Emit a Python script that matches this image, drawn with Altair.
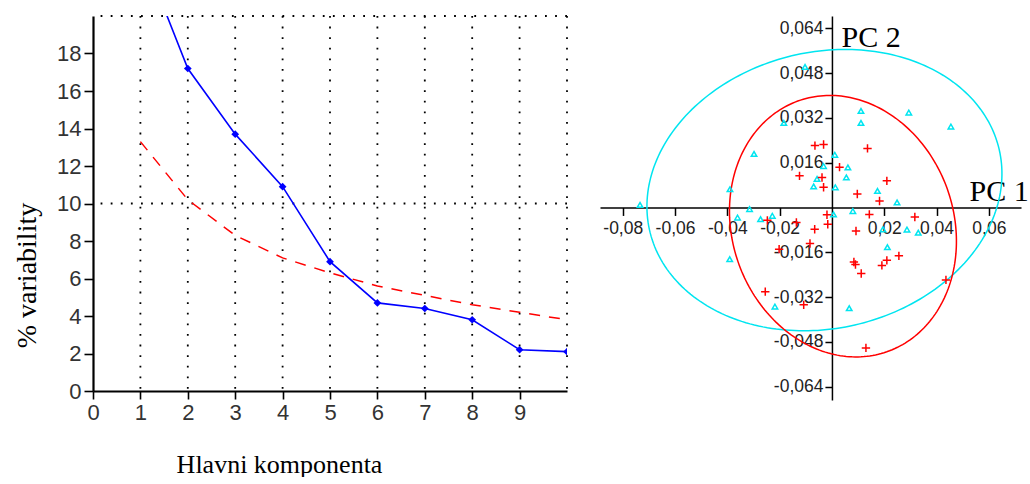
import altair as alt
import pandas as pd
import numpy as np

# ---------------- left panel data (scree plot) ----------------
pc = [1, 2, 3, 4, 5, 6, 7, 8, 9, 10]
explained = [23.6, 17.2, 13.7, 10.9, 6.9, 4.7, 4.4, 3.8, 2.2, 2.1]
reference = [13.3, 10.2, 8.3, 7.1, 6.3, 5.6, 5.1, 4.6, 4.2, 3.8]
grid_x = [1, 2, 3, 4, 5, 6, 7, 8, 9, 10]
grid_y = [10, 20]
x_ticks_left = [0, 1, 2, 3, 4, 5, 6, 7, 8, 9]
y_ticks_left = [0, 2, 4, 6, 8, 10, 12, 14, 16, 18]

# ---------------- right panel data (score plot) ----------------
cyan_x = [-0.0103, 0.0111, 0.0111, 0.0294, 0.0455, -0.0184, -0.0298, 0.0011, -0.0032, 0.0061,
          0.0055, -0.0057, -0.0070, 0.0013, 0.0174, 0.0249, -0.0390, -0.0734, -0.0315, -0.0361,
          -0.0273, -0.0228, 0.0006, 0.0080, 0.0195, 0.0287, 0.0330, 0.0212, -0.0391, -0.0218, 0.0066]
cyan_y = [0.0502, 0.0345, 0.0302, 0.0339, 0.0289, 0.0302, 0.0191, 0.0188, 0.0148, 0.0143,
          0.0107, 0.0102, 0.0075, 0.0072, 0.0059, 0.0018, 0.0065, 0.0009, -0.0006, -0.0036,
          -0.0042, -0.0030, -0.0025, -0.0013, -0.0078, -0.0079, -0.0090, -0.0142, -0.0185, -0.0354, -0.0360]
red_x = [-0.0065, -0.0032, 0.0136, -0.0124, -0.0038, 0.0029, -0.0032, 0.0210, 0.0097, 0.0182,
         -0.0019, -0.0016, 0.0143, 0.0317, -0.0066, -0.0136, -0.0247, 0.0092, -0.0084, -0.0202,
         0.0084, 0.0090, 0.0112, 0.0210, 0.0191, 0.0256, 0.0436, 0.0130, -0.0255, -0.0108]
red_y = [0.0221, 0.0225, 0.0211, 0.0113, 0.0107, 0.0144, 0.0072, 0.0095, 0.0048, 0.0023,
         -0.0026, -0.0060, -0.0025, -0.0034, -0.0078, -0.0054, -0.0046, -0.0084, -0.0129, -0.0149,
         -0.0195, -0.0204, -0.0236, -0.0189, -0.0207, -0.0173, -0.0259, -0.0502, -0.0301, -0.0348]

# confidence ellipses: centre and two conjugate semi-axis vectors (data units)
cyan_ell = dict(cx=-0.00287, cy=0.00618, ux=0.0668, uy=0.01464, vx=-0.01208, vy=0.04808)
red_ell = dict(cx=0.00421, cy=-0.00670, ux=0.03992, uy=0.01325, vx=-0.01702, vy=0.04479)

x_ticks_right = [-0.08, -0.06, -0.04, -0.02, 0.02, 0.04, 0.06]
y_ticks_right = [-0.064, -0.048, -0.032, -0.016, 0.016, 0.032, 0.048, 0.064]

SANS = "Liberation Sans"
SERIF = "Liberation Serif"

# ---------------- left chart ----------------
LW, LH = 474, 375
df_line = pd.DataFrame({"pc": pc, "explained": explained, "reference": reference})

xs_left = alt.Scale(domain=[0, 10], nice=False)
ys_left = alt.Scale(domain=[0, 20], nice=False)

x_axis_left = alt.Axis(values=x_ticks_left, grid=False, domainColor="black", domainWidth=2.2,
                       tickColor="black", tickWidth=1.6, tickSize=8, labelFont=SANS,
                       labelFontSize=22, labelColor="#333", labelPadding=3, labelFlush=False,
                       labelOverlap=False, title="Hlavni komponenta", titleFont=SERIF,
                       titleFontSize=26, titleFontWeight="normal", titleColor="black",
                       titleX=186, titleY=81, titleAlign="center", titleBaseline="alphabetic")
y_axis_left = alt.Axis(values=y_ticks_left, grid=False, domainColor="black", domainWidth=2.2,
                       tickColor="black", tickWidth=1.6, tickSize=9, labelFont=SANS,
                       labelFontSize=22, labelColor="#333", labelPadding=3, labelFlush=False,
                       labelOverlap=False, title="% variability", titleFont=SERIF,
                       titleFontSize=28, titleFontWeight="normal", titleColor="black",
                       titleX=-66, titleY=259, titleAlign="center", titleBaseline="middle",
                       titleAngle=270)

vgrid = alt.Chart(pd.DataFrame({"gx": grid_x})).mark_rule(
    color="black", strokeWidth=1.8, strokeDash=[1.8, 8.8]).encode(
    x=alt.X("gx:Q", scale=xs_left, axis=x_axis_left))
hgrid = alt.Chart(pd.DataFrame({"gy": grid_y})).mark_rule(
    color="black", strokeWidth=1.8, strokeDash=[1.8, 8.3]).encode(
    y=alt.Y("gy:Q", scale=ys_left, axis=y_axis_left))

ref_line = alt.Chart(df_line).mark_line(color="#ff0000", strokeWidth=1.5,
                                        strokeDash=[11, 9], clip=True).encode(
    x=alt.X("pc:Q", scale=xs_left), y=alt.Y("reference:Q", scale=ys_left))
exp_line = alt.Chart(df_line).mark_line(color="#0000ff", strokeWidth=1.6, clip=True).encode(
    x=alt.X("pc:Q", scale=xs_left), y=alt.Y("explained:Q", scale=ys_left))
exp_pts = alt.Chart(df_line).mark_point(shape="diamond", filled=True, color="#0000ff",
                                        size=60, opacity=1, clip=True).encode(
    x=alt.X("pc:Q", scale=xs_left), y=alt.Y("explained:Q", scale=ys_left))

left = alt.layer(vgrid, hgrid, ref_line, exp_line, exp_pts).properties(width=LW, height=LH)

# ---------------- right chart ----------------
RW, RH = 421, 384
XMIN, XMAX = -0.0887, 0.0723
YMIN, YMAX = -0.0688, 0.0684
x_off = -RH * (0 - YMIN) / (YMAX - YMIN)
y_off = -RW * (0 - XMIN) / (XMAX - XMIN)

xs_right = alt.Scale(domain=[XMIN, XMAX], nice=False, zero=False)
ys_right = alt.Scale(domain=[YMIN, YMAX], nice=False, zero=False)

x_lab = "(datum.value < 0 ? '-' : '') + replace(format(abs(datum.value), '.2f'), '.', ',')"
y_lab = "(datum.value < 0 ? '-' : '') + replace(format(abs(datum.value), '.3f'), '.', ',')"

x_axis_right = alt.Axis(values=x_ticks_right, grid=False, offset=x_off, domainColor="black",
                        domainWidth=1.5, tickColor="black", tickWidth=1.5, tickSize=8,
                        labelFont=SANS, labelFontSize=17.5, labelColor="#222", labelPadding=4,
                        labelFlush=False, labelOverlap=False, labelExpr=x_lab,
                        title="PC 1", titleFont=SERIF, titleFontSize=30,
                        titleFontWeight="normal", titleColor="black", titleX=369, titleY=-7,
                        titleAlign="left", titleBaseline="alphabetic")
y_axis_right = alt.Axis(values=y_ticks_right, grid=False, offset=y_off, domainColor="black",
                        domainWidth=1.5, tickColor="black", tickWidth=1.5, tickSize=7,
                        labelFont=SANS, labelFontSize=17.5, labelColor="#222", labelPadding=2,
                        labelFlush=False, labelOverlap=False, labelExpr=y_lab,
                        title="PC 2", titleFont=SERIF, titleFontSize=30,
                        titleFontWeight="normal", titleColor="black", titleX=9, titleY=30.5,
                        titleAlign="left", titleBaseline="alphabetic", titleAngle=0)

def ellipse_df(e, n=240):
    t = np.linspace(0, 2 * np.pi, n)
    return pd.DataFrame({
        "i": np.arange(n),
        "ex": e["cx"] + e["ux"] * np.cos(t) + e["vx"] * np.sin(t),
        "ey": e["cy"] + e["uy"] * np.cos(t) + e["vy"] * np.sin(t),
    })

cyan_ellipse = alt.Chart(ellipse_df(cyan_ell)).mark_line(color="#00e5f0", strokeWidth=1.5).encode(
    x=alt.X("ex:Q", scale=xs_right, axis=x_axis_right),
    y=alt.Y("ey:Q", scale=ys_right, axis=y_axis_right),
    order="i:Q")
red_ellipse = alt.Chart(ellipse_df(red_ell)).mark_line(color="#ff0000", strokeWidth=1.5).encode(
    x=alt.X("ex:Q", scale=xs_right), y=alt.Y("ey:Q", scale=ys_right), order="i:Q")

cyan_pts = alt.Chart(pd.DataFrame({"px": cyan_x, "py": cyan_y})).mark_point(
    shape="triangle-up", filled=False, color="#00e5f0", size=30, strokeWidth=1.5, opacity=1).encode(
    x=alt.X("px:Q", scale=xs_right), y=alt.Y("py:Q", scale=ys_right))
red_pts = alt.Chart(pd.DataFrame({"px": red_x, "py": red_y})).mark_point(
    shape="M-1,0L1,0M0,-1L0,1", filled=False, color="#ff0000", size=70, strokeWidth=1.5,
    opacity=1).encode(
    x=alt.X("px:Q", scale=xs_right), y=alt.Y("py:Q", scale=ys_right))

right = alt.layer(cyan_ellipse, red_ellipse, cyan_pts, red_pts).properties(width=RW, height=RH)

chart = alt.hconcat(left, right, spacing=32).properties(
    padding={"left": 13, "top": 15, "right": 0, "bottom": 0},
    background="white",
).configure_view(stroke=None)

chart.save("out.html", embed_options={"renderer": "svg", "actions": False})
